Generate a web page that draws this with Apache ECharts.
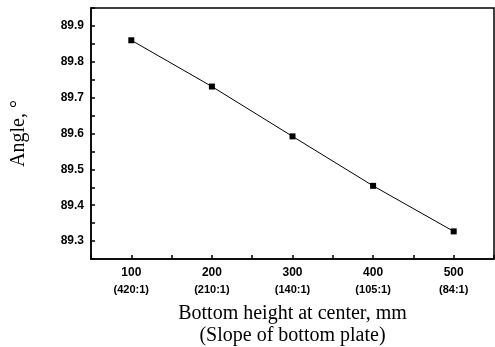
<!DOCTYPE html>
<html>
<head>
<meta charset="utf-8">
<script src="https://cdn.jsdelivr.net/npm/echarts@6/dist/echarts.min.js"></script>
<style>
  html, body { margin: 0; padding: 0; background: #fff; }
  #chart { width: 495px; height: 347px; }
</style>
</head>
<body>
<div id="chart"></div>
<script>
const heights = [100, 200, 300, 400, 500];
const slopes = ["(420:1)", "(210:1)", "(140:1)", "(105:1)", "(84:1)"];
const angles = [89.86, 89.731, 89.592, 89.454, 89.327];

const chart = echarts.init(document.getElementById("chart"));

const tickFont = "Liberation Sans";
const titleFont = "Liberation Serif";

const option = {
  animation: false,
  grid: {
    left: 91,
    top: 8,
    width: 403,
    height: 251,
    outerBoundsMode: "none",
    containLabel: false,
    show: true,
    borderColor: "#000",
    borderWidth: 1.5
  },
  xAxis: {
    type: "value",
    min: 50,
    max: 550,
    interval: 50,
    name: "Bottom height at center, mm\n(Slope of bottom plate)",
    nameLocation: "middle",
    nameGap: 44,
    nameTextStyle: {
      fontFamily: titleFont,
      fontSize: 20,
      color: "#000",
      lineHeight: 22
    },
    axisLine: { lineStyle: { color: "#000", width: 1.5 } },
    axisTick: { inside: true, length: 4, lineStyle: { color: "#000", width: 1.5 } },
    splitLine: { show: false },
    axisLabel: {
      margin: 5,
      formatter: function (v) {
        const i = heights.indexOf(v);
        if (i < 0) return "";
        return "{a|" + v + "}\n{b|" + slopes[i] + "}";
      },
      rich: {
        a: { fontFamily: tickFont, fontWeight: "bold", fontSize: 12, color: "#000", lineHeight: 17 },
        b: { fontFamily: tickFont, fontWeight: "bold", fontSize: 11, color: "#000", lineHeight: 17 }
      }
    }
  },
  yAxis: {
    type: "value",
    min: 89.25,
    max: 89.95,
    interval: 0.05,
    name: "Angle, °",
    nameLocation: "middle",
    nameGap: 62,
    nameTextStyle: {
      fontFamily: titleFont,
      fontSize: 20,
      color: "#000"
    },
    axisLine: { show: true, lineStyle: { color: "#000", width: 1.5 } },
    axisTick: { inside: true, length: 4, lineStyle: { color: "#000", width: 1.5 } },
    splitLine: { show: false },
    axisLabel: {
      margin: 7,
      fontFamily: tickFont,
      fontWeight: "bold",
      fontSize: 12,
      color: "#000",
      formatter: function (v) {
        const k = Math.round(v * 100);
        return k % 10 === 0 ? v.toFixed(1) : "";
      }
    }
  },
  series: [
    {
      type: "line",
      data: heights.map((h, i) => [h, angles[i]]),
      symbol: "rect",
      symbolSize: 6,
      itemStyle: { color: "#000" },
      lineStyle: { color: "#000", width: 1 }
    }
  ]
};

chart.setOption(option);
</script>
</body>
</html>
